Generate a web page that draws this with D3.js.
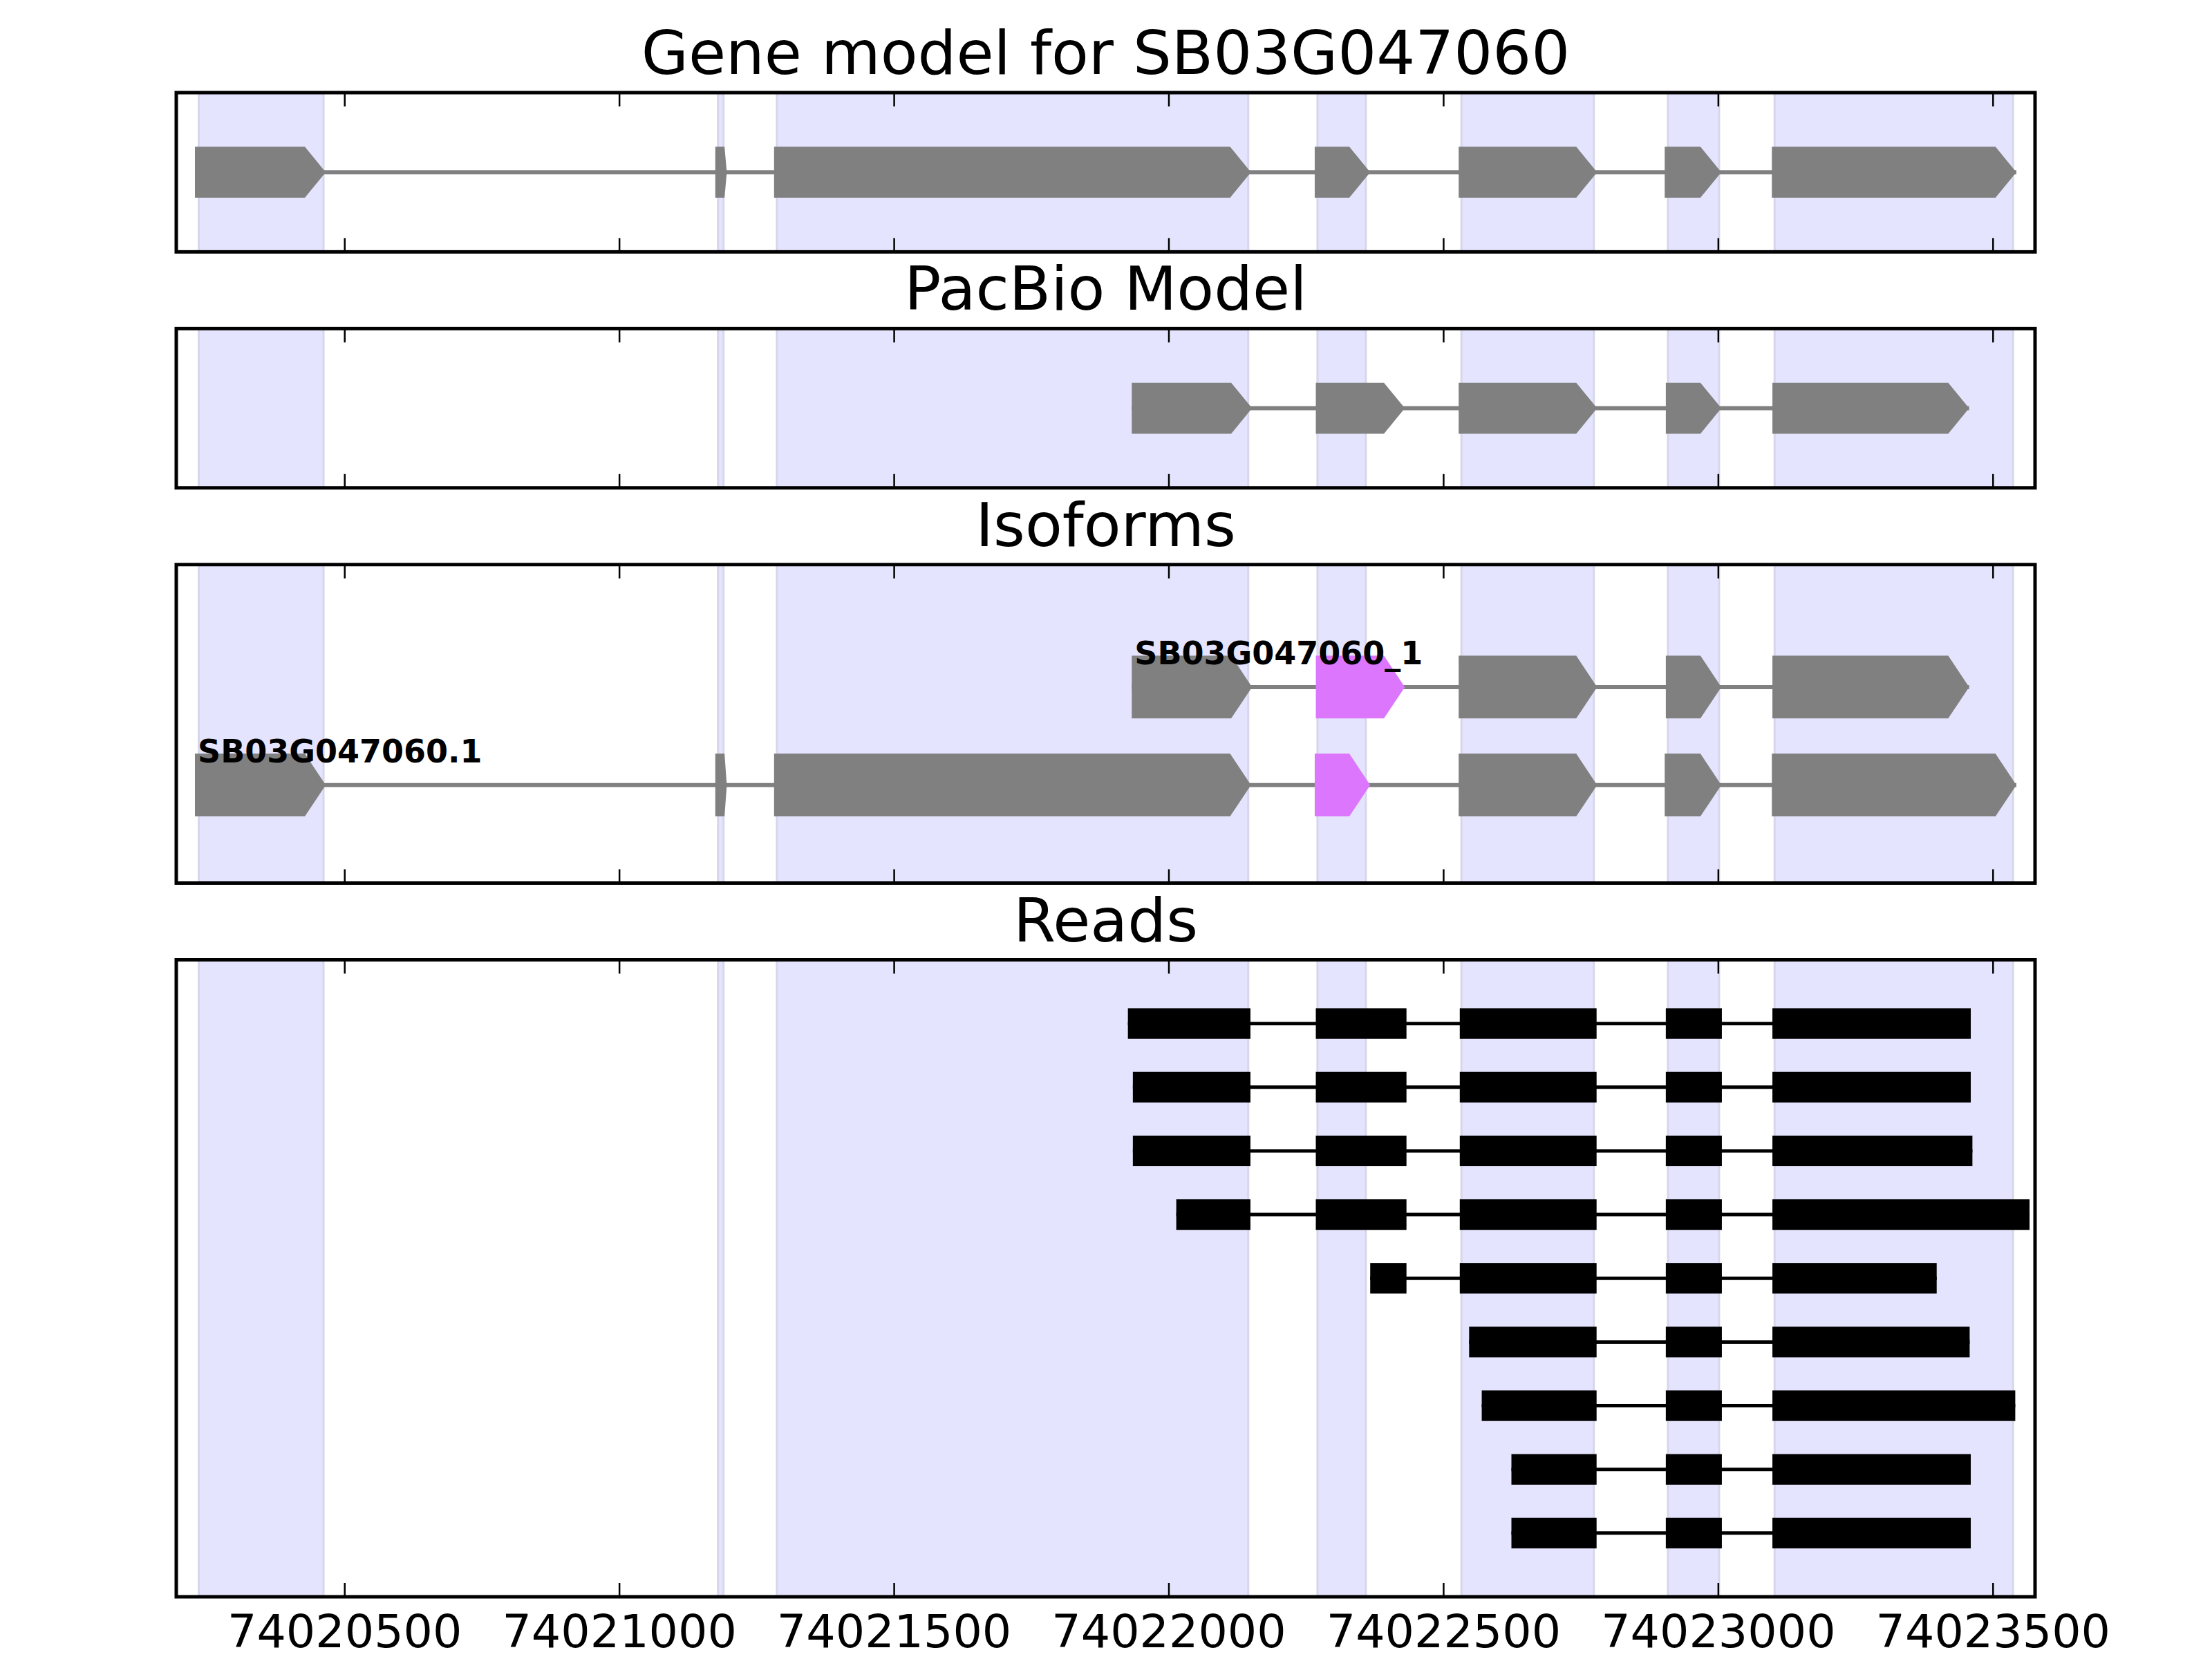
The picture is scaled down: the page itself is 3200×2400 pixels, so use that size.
<!DOCTYPE html>
<html>
<head>
<meta charset="utf-8">
<script src="https://cdn.jsdelivr.net/npm/d3@7"></script>
<style>
  body { margin: 0; background: #fff; }
  text { font-family: "DejaVu Sans", sans-serif; }
</style>
</head>
<body>
<svg class="chart"></svg>
<script>
// gene model (SB03G047060.1)
var geneStarts = [74020228, 74021175, 74021282, 74022266, 74022528, 74022903, 74023098];
var geneEnds   = [74020466, 74021196, 74022150, 74022367, 74022780, 74023006, 74023543];

// PacBio model (SB03G047060_1)
var pacbioStarts = [74021933, 74022268, 74022528, 74022905, 74023099];
var pacbioEnds   = [74022152, 74022430, 74022780, 74023006, 74023457];

// shaded exon regions
var shadeStarts = [74020235, 74021180, 74021287, 74022271, 74022533, 74022909, 74023103];
var shadeEnds   = [74020462, 74021190, 74022145, 74022359, 74022774, 74023002, 74023537];

var isoNames = ["SB03G047060.1", "SB03G047060_1"];
var isoHighlight = [3, 1]; // exon that differs between isoforms

// reads, top to bottom
var readStarts = [
  [74021926, 74022268, 74022530, 74022905, 74023099],
  [74021935, 74022268, 74022530, 74022905, 74023099],
  [74021935, 74022268, 74022530, 74022905, 74023099],
  [74022014, 74022268, 74022530, 74022905, 74023099],
  [74022367, 74022530, 74022905, 74023099],
  [74022547, 74022905, 74023099],
  [74022570, 74022905, 74023099],
  [74022624, 74022905, 74023099],
  [74022624, 74022905, 74023099]
];
var readEnds = [
  [74022149, 74022433, 74022779, 74023007, 74023460],
  [74022149, 74022433, 74022779, 74023007, 74023460],
  [74022149, 74022433, 74022779, 74023007, 74023463],
  [74022149, 74022433, 74022779, 74023007, 74023567],
  [74022433, 74022779, 74023007, 74023398],
  [74022779, 74023007, 74023458],
  [74022779, 74023007, 74023541],
  [74022779, 74023007, 74023460],
  [74022779, 74023007, 74023460]
];

var tickValues = [74020500, 74021000, 74021500, 74022000, 74022500, 74023000, 74023500];
var titles = ["Gene model for SB03G047060", "PacBio Model", "Isoforms", "Reads"];
var yDomains = [[0, 2], [0, 2], [0, 3.25], [0, 10]];
var heightRatios = [1, 1, 2, 4];

var width = 3200, height = 2400;
var margin = {top: 134, right: 256, bottom: 90, left: 255},
    gap = 111;

var svg = d3.select(".chart").attr("width", width).attr("height", height);

var x = d3.scaleLinear()
    .domain([74020194, 74023577])
    .range([margin.left, width - margin.right]);

var unit = (height - margin.top - margin.bottom - 3 * gap) / d3.sum(heightRatios);
var tipLen = 38;

function exonPoints(s, e, yc, half, y) {
  var len = e - s;
  var tip = len > 60 ? tipLen : len * 0.2;
  return [
    [x(s), y(yc + half)], [x(e - tip), y(yc + half)], [x(e), y(yc)],
    [x(e - tip), y(yc - half)], [x(s), y(yc - half)]
  ].map(function(p) { return p.join(","); }).join(" ");
}

function drawModel(g, y, row, starts, ends, highlight) {
  g.append("line")
      .attr("x1", x(starts[0])).attr("x2", x(ends[ends.length - 1]))
      .attr("y1", y(row)).attr("y2", y(row))
      .attr("stroke", "#808080").attr("stroke-width", 6);
  g.selectAll(null)
      .data(starts)
    .enter().append("polygon")
      .attr("points", function(d, i) { return exonPoints(d, ends[i], row, 0.32, y); })
      .attr("fill", function(d, i) { return i === highlight ? "#dc76fd" : "#808080"; });
}

var top0 = margin.top;
heightRatios.forEach(function(r, p) {
  var h = r * unit;
  var g = svg.append("g").attr("transform", "translate(0," + top0 + ")");
  var y = d3.scaleLinear().domain(yDomains[p]).range([h, 0]);

  // shaded exon regions
  g.selectAll(".shade")
      .data(shadeStarts)
    .enter().append("rect")
      .attr("x", function(d) { return x(d); })
      .attr("width", function(d, i) { return x(shadeEnds[i]) - x(d); })
      .attr("y", 0).attr("height", h)
      .attr("fill", "#e4e4fe").attr("stroke", "#d6d6ec").attr("stroke-width", 3);

  if (p === 0) drawModel(g, y, 1, geneStarts, geneEnds, -1);
  if (p === 1) drawModel(g, y, 1, pacbioStarts, pacbioEnds, -1);
  if (p === 2) {
    drawModel(g, y, 1, geneStarts, geneEnds, isoHighlight[0]);
    drawModel(g, y, 2, pacbioStarts, pacbioEnds, isoHighlight[1]);
    [geneStarts[0], pacbioStarts[0]].forEach(function(s, i) {
      g.append("text")
          .attr("x", x(s) + 4).attr("y", y(i + 1 + 0.23))
          .attr("font-size", 46).attr("font-weight", "bold")
          .text(isoNames[i]);
    });
  }
  if (p === 3) {
    var read = g.selectAll(".read")
        .data(readStarts)
      .enter().append("g")
        .attr("class", "read");
    read.append("line")
        .attr("x1", function(d) { return x(d[0]); })
        .attr("x2", function(d, i) { return x(readEnds[i][readEnds[i].length - 1]); })
        .attr("y1", function(d, i) { return y(9 - i); })
        .attr("y2", function(d, i) { return y(9 - i); })
        .attr("stroke", "#000").attr("stroke-width", 5);
    read.each(function(d, i) {
      d3.select(this).selectAll("rect")
          .data(d)
        .enter().append("rect")
          .attr("x", function(s) { return x(s); })
          .attr("width", function(s, j) { return x(readEnds[i][j]) - x(s); })
          .attr("y", y(9 - i + 0.24))
          .attr("height", y(0) - y(0.48))
          .attr("fill", "#000");
    });
  }

  // ticks inside, top and bottom
  var bottomAxis = g.append("g")
      .attr("class", "axis")
      .attr("transform", "translate(0," + h + ")")
      .call(d3.axisBottom(x).tickValues(tickValues).tickSize(-20).tickSizeOuter(0)
        .tickPadding(26)
        .tickFormat(p === 3 ? d3.format("d") : function() { return ""; }));
  g.append("g")
      .attr("class", "axis")
      .call(d3.axisTop(x).tickValues(tickValues).tickSize(-20).tickSizeOuter(0)
        .tickFormat(function() { return ""; }));
  g.selectAll(".axis .domain").remove();
  g.selectAll(".axis line").attr("stroke", "#000").attr("stroke-width", 2.5);
  bottomAxis.selectAll("text")
      .attr("font-size", 66.7).attr("fill", "#000")
      .attr("font-family", "DejaVu Sans");

  g.append("rect")
      .attr("x", x.range()[0]).attr("y", 0)
      .attr("width", x.range()[1] - x.range()[0]).attr("height", h)
      .attr("fill", "none").attr("stroke", "#000").attr("stroke-width", 5);

  g.append("text")
      .attr("x", (x.range()[0] + x.range()[1]) / 2)
      .attr("y", -27)
      .attr("text-anchor", "middle")
      .attr("font-size", 88)
      .text(titles[p]);

  top0 += h + gap;
});
</script>
</body>
</html>
